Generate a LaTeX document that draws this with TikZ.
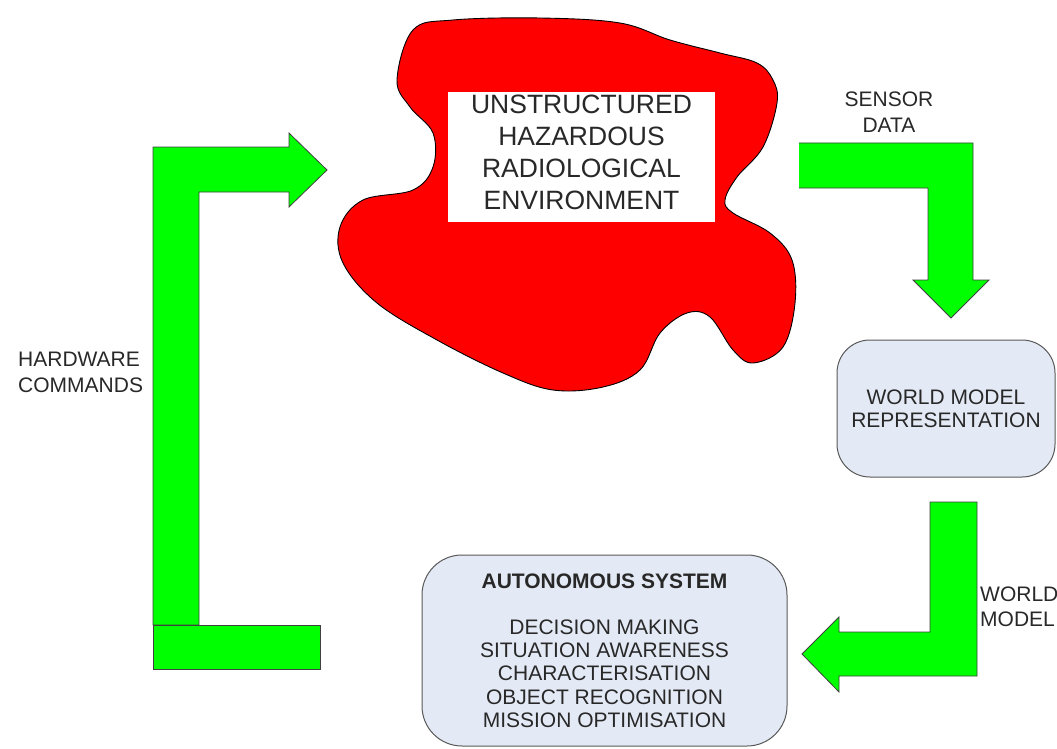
\documentclass[tikz,border=0pt]{standalone}
\usepackage{fontspec}
\setmainfont{Liberation Sans}
\definecolor{arrowgreen}{RGB}{0,255,0}
\definecolor{boxfill}{RGB}{228,234,245}
\definecolor{textgray}{RGB}{40,40,40}

\begin{document}
\begin{tikzpicture}[x=1pt,y=-1pt,
    greenarrow/.style={fill=arrowgreen,draw=black!75,line width=0.8pt},
    roundbox/.style={draw=black!65,fill=boxfill,line width=1pt,align=center,text=textgray,
      font=\fontsize{21}{23.2}\selectfont},
    lbl/.style={inner sep=0pt,text=textgray,font=\fontsize{21}{25.5}\selectfont}]
  \useasboundingbox (0,0) rectangle (1057,749);
  %\draw[very thin,lightgray] (0,0) grid[step=50] (1057,749);
  % the environment
  \draw[fill=red,line width=0.9pt] plot[smooth cycle,tension=0.6] coordinates {
    (397,80) (413,30) (453,20) (540,18) (620,23) (670,40) (720,53) (757,63) (773,80)
    (777,103) (763,147) (737,177) (725,200) (733,213) (770,233) (792,260) (795,303)
    (783,347) (753,363) (733,350) (710,317) (687,313) (660,333) (640,370) (603,387)
    (553,390) (503,373) (437,340) (377,303) (343,263) (340,227) (363,200) (413,190)
    (433,167) (433,133) (410,107)};
  \node[fill=white,minimum width=267pt,minimum height=130pt,align=center,text=textgray,
    font=\fontsize{26.5}{32}\selectfont] (env) at (581.5,157)
    {UNSTRUCTURED\\HAZARDOUS\\RADIOLOGICAL\\ENVIRONMENT\rule[-9pt]{0pt}{0pt}}; % lift text a bit
  % boxes
  \node[roundbox,rounded corners=33pt,minimum width=218pt,minimum height=137pt] (wmr)
    at (946,408.5) {WORLD MODEL\\REPRESENTATION};
  \node[roundbox,rounded corners=40pt,minimum width=365pt,minimum height=191pt] (auton)
    at (604.5,650.5) {\textbf{AUTONOMOUS SYSTEM}\\[23.2pt]DECISION MAKING\\SITUATION AWARENESS\\
    CHARACTERISATION\\OBJECT RECOGNITION\\MISSION OPTIMISATION};
  % arrows
  \filldraw[greenarrow] (153,625) -- (153,147) -- (289,147) -- (289,133) -- (327,170)
    -- (289,207) -- (289,192) -- (199,192) -- (199,625) -- cycle;
  \filldraw[greenarrow] (153,625) rectangle (320,669);
  \fill[arrowgreen] (799,143) -- (973,143) -- (973,280) -- (989,280) -- (951,318)
    -- (913,280) -- (928,280) -- (928,188) -- (799,188) -- cycle;
  \draw[draw=black!75,line width=0.8pt] (799,143) -- (973,143) -- (973,280) -- (989,280)
    -- (951,318) -- (913,280) -- (928,280) -- (928,188) -- (799,188); % left end stays open
  \filldraw[greenarrow] (930,502) -- (977,502) -- (977,676) -- (839,676) -- (839,692)
    -- (802,654) -- (839,617) -- (839,632) -- (930,632) -- cycle;
  % labels
  \node[lbl,anchor=west,align=left] (hwc) at (18,372.5) {HARDWARE\\COMMANDS};
  \node[lbl,align=center] (sdata) at (889,112) {SENSOR\\DATA};
  \node[lbl,anchor=west,align=left] (wmod) at (980,607) {WORLD\\MODEL};
\end{tikzpicture}
\end{document}
